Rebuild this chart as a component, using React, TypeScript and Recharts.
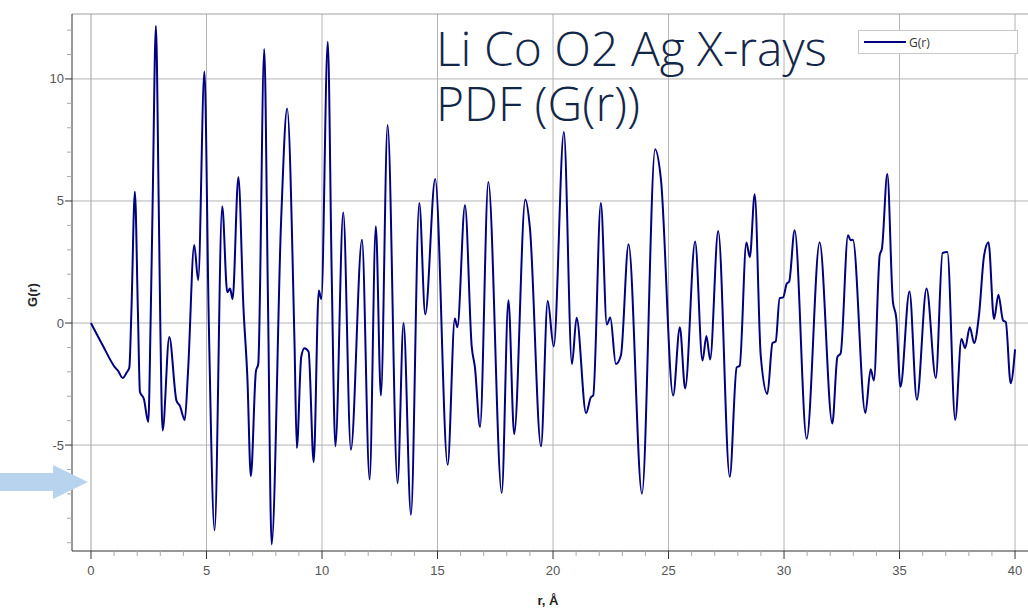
import { LineChart, Line, XAxis, YAxis, ReferenceLine } from "recharts";

// r (Å) and G(r)
const rValues = [
  0, 0.5, 1.04, 1.18, 1.37, 1.54, 1.66, 1.75, 1.9, 2.03, 2.12, 2.29, 2.48, 2.58, 2.67, 2.81, 2.93, 3.0, 3.1,
  3.39, 3.7, 3.85, 4.06, 4.2, 4.47, 4.64, 4.91, 5.1, 5.35, 5.68, 5.9, 6.02, 6.13, 6.38, 6.6, 6.77, 6.92,
  7.14, 7.24, 7.5, 7.66, 7.82, 8.23, 8.49, 8.81, 8.91, 9.1, 9.24, 9.42, 9.64, 9.86, 9.97, 10.25, 10.42,
  10.58, 10.92, 11.25, 11.73, 12.06, 12.33, 12.55, 12.84, 13.27, 13.53, 13.85, 14.21, 14.47, 14.9, 15.44,
  15.75, 15.86, 16.19, 16.48, 16.62, 16.84, 17.2, 17.78, 18.07, 18.32, 18.8, 19.0, 19.48, 19.77, 20.03,
  20.47, 20.82, 21.02, 21.43, 21.64, 21.74, 22.07, 22.33, 22.48, 22.72, 22.94, 23.27, 23.85, 24.42, 24.67,
  25.2, 25.49, 25.72, 26.15, 26.47, 26.64, 26.8, 27.15, 27.65, 27.95, 28.08, 28.37, 28.52, 28.73, 28.99,
  29.28, 29.5, 29.64, 29.81, 29.96, 30.12, 30.22, 30.46, 30.98, 31.54, 32.09, 32.31, 32.45, 32.77, 32.88,
  32.98, 33.52, 33.75, 33.89, 34.14, 34.24, 34.47, 34.71, 34.86, 35.04, 35.43, 35.75, 36.17, 36.57, 36.86,
  37.07, 37.41, 37.68, 37.84, 38.04, 38.23, 38.44, 38.66, 38.85, 39.09, 39.28, 39.48, 39.6, 39.81, 40.0,
];
const gValues = [
  0, -0.9, -1.82, -1.97, -2.25, -2.04, -1.82, 0.5, 5.38, 0.5, -2.83, -3.11, -4.05, 0, 5, 12.17, 5, 0, -4.4,
  -0.57, -3.18, -3.4, -3.97, -2.0, 3.2, 1.76, 10.3, 0, -8.49, 4.78, 1.26, 1.41, 0.98, 5.97, 0.62, -2.25, -6.27,
  -1.97, -1.68, 11.23, 1, -9.07, 4.2, 8.79, -0.82, -5.12, -1.39, -1.03, -1.18, -5.7, 1.33, 0.98, 11.52, 2,
  -5.05, 4.53, -5.19, 3.41, -6.41, 3.96, -2.97, 8.11, -6.56, 0.0, -7.85, 4.92, 0.36, 5.9, -5.81,
  0.19, -0.17, 4.82, -0.96, -1.82, -4.26, 5.78, -6.96, 0.93, -4.55, 5.06, 3.9, -5.05, 0.9, -0.96,
  7.83, -1.68, 0.22, -3.69, -3.04, -2.97, 4.92, -0.06, 0.23, -1.68, -1.32, 3.23, -6.99, 7.12, 5.9,
  -2.97, -0.17, -2.68, 3.34, -1.54, -0.53, -1.49, 3.77, -6.3, -1.82, -1.75, 3.3, 2.7, 5.28, -1.32,
  -2.9, -0.82, -0.75, 1.02, 1.05, 1.62, 1.69, 3.8, -4.74, 3.31, -4.12, -1.39, -1.25, 3.6, 3.39,
  3.41, -3.69, -1.89, -2.35, 2.77, 3.06, 6.1, 0.9, 0.19, -2.61, 1.29, -3.14, 1.41, -2.25, 2.87,
  2.91, -3.97, -0.65, -1.03, -0.17, -0.82, 0.33, 2.77, 3.31, 0.16, 1.16, 0.11, 0.04, -2.47, -1.08,
];

const xMajorTicks = [0, 5, 10, 15, 20, 25, 30, 35, 40];
const xMinorTicks = [
  0, 1, 2, 3, 4, 5, 6, 7, 8, 9, 10, 11, 12, 13, 14, 15, 16, 17, 18, 19, 20,
  21, 22, 23, 24, 25, 26, 27, 28, 29, 30, 31, 32, 33, 34, 35, 36, 37, 38, 39, 40,
];
const yMajorTicks = [-5, 0, 5, 10];
const yMinorTicks = [-9, -8, -7, -6, -5, -4, -3, -2, -1, 0, 1, 2, 3, 4, 5, 6, 7, 8, 9, 10, 11, 12];

const titleLines = ["Li Co O2 Ag X-rays", "PDF (G(r))"];

const data = rValues.map((r, i) => ({ r, g: gValues[i] }));

const NAVY = "#000080";
const TICK_FONT = "'Liberation Sans', Arial, sans-serif";

function YTick({ x, y, payload }: any) {
  const major = yMajorTicks.includes(payload.value);
  return (
    <g>
      <line x1={x - (major ? 7 : 5)} x2={x} y1={y} y2={y} stroke={major ? "#333" : "#aaa"} />
      {major && (
        <text x={x - 8} y={y} dy={4.5} textAnchor="end" fontSize={13} fill="#555" fontFamily={TICK_FONT}>
          {payload.value}
        </text>
      )}
    </g>
  );
}

function XTick({ x, y, payload }: any) {
  const major = xMajorTicks.includes(payload.value);
  return (
    <g>
      <line x1={x} x2={x} y1={y} y2={y + (major ? 8 : 5)} stroke={major ? "#333" : "#aaa"} />
      {major && (
        <text x={x} y={y + 24} textAnchor="middle" fontSize={13} fill="#555" fontFamily={TICK_FONT}>
          {payload.value}
        </text>
      )}
    </g>
  );
}

export default function App() {
  return (
    <div
      style={{
        position: "absolute",
        left: 0,
        top: 0,
        width: 1028,
        height: 614,
        overflow: "hidden",
        background: "#fff",
      }}
    >
      <LineChart width={1040} height={614} data={data} margin={{ top: 14, right: 0, bottom: 23, left: 12 }}>
        {xMajorTicks.map((t) => (
          <ReferenceLine
            key={"vx" + t}
            x={t}
            stroke={t === 0 ? "#cfcfcf" : "#b4b4b4"}
            strokeWidth={t === 0 ? 2 : 1}
          />
        ))}
        {yMajorTicks.map((t) => (
          <ReferenceLine key={"hy" + t} y={t} stroke="#b4b4b4" />
        ))}
        <ReferenceLine y={12.66} stroke="#a0a0a0" />
        <XAxis
          type="number"
          dataKey="r"
          domain={[-0.822, 41.08]}
          ticks={xMinorTicks}
          interval={0}
          allowDataOverflow
          height={40}
          tickSize={0}
          tickMargin={0}
          tickLine={false}
          tick={<XTick />}
          axisLine={{ stroke: "#333" }}
        />
        <YAxis
          type="number"
          domain={[-9.34, 12.66]}
          ticks={yMinorTicks}
          interval={0}
          allowDataOverflow
          width={60}
          tickSize={0}
          tickMargin={0}
          tickLine={false}
          tick={<YTick />}
          axisLine={{ stroke: "#333" }}
        />
        <Line
          type="monotone"
          dataKey="g"
          stroke={NAVY}
          strokeWidth={2}
          dot={false}
          isAnimationActive={false}
        />
      </LineChart>

      {titleLines.map((line, i) => (
        <div
          key={line}
          style={{
            position: "absolute",
            left: 436,
            top: 24 + i * 55,
            fontFamily: "'Open Sans', 'Noto Sans', sans-serif",
            fontWeight: 300,
            fontSize: 48,
            lineHeight: "48px",
            color: "#122748",
            whiteSpace: "nowrap",
          }}
        >
          {line}
        </div>
      ))}

      <div
        style={{
          position: "absolute",
          left: 858,
          top: 30,
          width: 158,
          height: 22,
          border: "1px solid #c8c8c8",
          background: "#fff",
          display: "flex",
          alignItems: "center",
          fontFamily: "'Open Sans', sans-serif",
          fontSize: 12,
          color: "#333",
        }}
      >
        <div style={{ width: 42, height: 2, background: NAVY, marginLeft: 5, marginRight: 3 }} />
        <span>G(r)</span>
      </div>

      <div
        style={{
          position: "absolute",
          left: 32,
          top: 295,
          transform: "translate(-50%, -50%) rotate(-90deg)",
          fontFamily: TICK_FONT,
          fontWeight: 700,
          fontSize: 13,
          color: "#222",
        }}
      >
        G(r)
      </div>
      <div
        style={{
          position: "absolute",
          left: 548,
          top: 600,
          transform: "translate(-50%, -50%)",
          fontFamily: TICK_FONT,
          fontWeight: 700,
          fontSize: 13,
          color: "#222",
        }}
      >
        r, Å
      </div>

      <svg style={{ position: "absolute", left: 0, top: 0 }} width={100} height={614}>
        <polygon points="0,473 53,473 53,465 88,482 53,499 53,491 0,491" fill="#b7d3ee" />
      </svg>
    </div>
  );
}
